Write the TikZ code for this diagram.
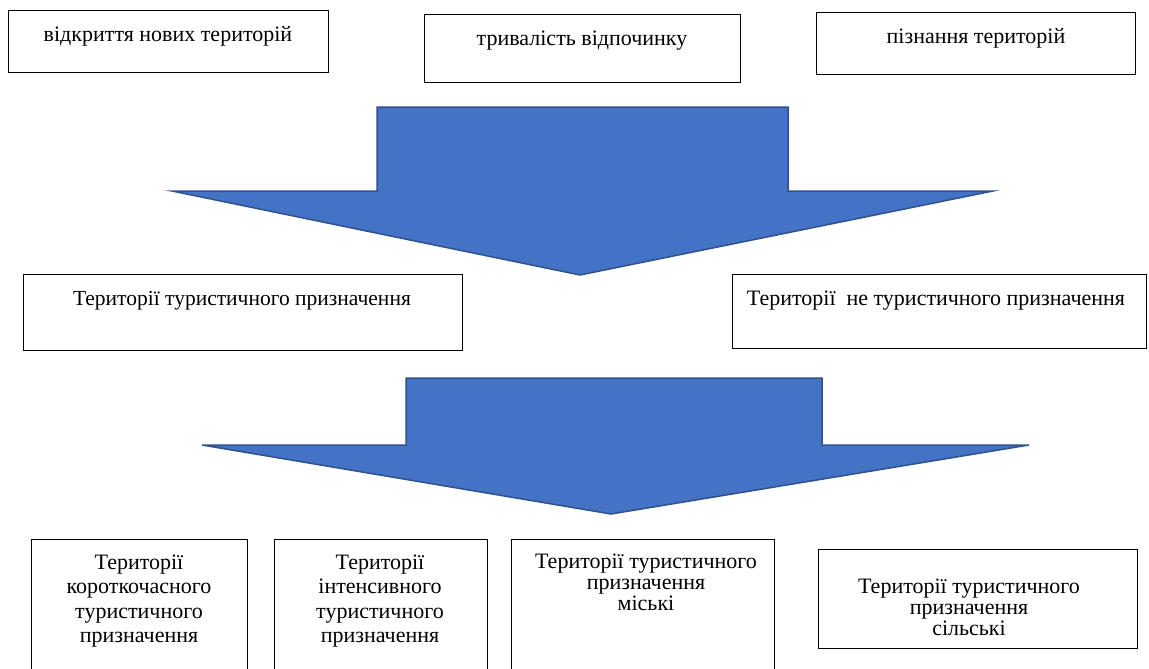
\documentclass[tikz,border=0pt]{standalone}
\usepackage{fontspec}
\setmainfont{Liberation Serif}
\usetikzlibrary{positioning}
\definecolor{blfill}{HTML}{4472C4}
\definecolor{blline}{HTML}{2F528F}

\begin{document}
\begin{tikzpicture}[x=1pt, y=-1pt]
    \tikzstyle{box}=[draw, line width=1.2pt, anchor=north west, inner sep=0pt]
    \tikzstyle{t}=[font=\fontsize{22}{26}\selectfont, inner sep=0pt]
    \tikzstyle{tb}=[font=\fontsize{22}{24.5}\selectfont, align=center, inner sep=0pt]
    \tikzstyle{tc}=[font=\fontsize{22}{21}\selectfont, align=center, inner sep=0pt]
    \tikzstyle{blk}=[fill=blfill, draw=blline, line width=1.5pt]

    \useasboundingbox (0,0) rectangle (1149,669);
    \clip (0,0) rectangle (1149,669);

    \node[box, minimum width=320pt, minimum height=62pt] (a1) at (8,10) {};
    \node[box, minimum width=316pt, minimum height=68pt] (a2) at (424,14) {};
    \node[box, minimum width=319pt, minimum height=62pt] (a3) at (816,12) {};
    \node[t] (ta1) at (168,36) {відкриття нових територій};
    \node[t] (ta2) at (582,41) {тривалість відпочинку};
    \node[t] (ta3) at (976,38) {пізнання територій};

    \draw[blk] (377,107) -- (788,107) -- (788,191) -- (993,191) -- (580,275)
        -- (172,191) -- (377,191) -- cycle;

    \node[box, minimum width=439pt, minimum height=76pt] (b1) at (23,274) {};
    \node[box, minimum width=414pt, minimum height=74pt] (b2) at (732,274) {};
    \node[t, font=\fontsize{21.5}{26}\selectfont] (tb1) at (242,301) {Території туристичного призначення};
    \node[t] (tb2) at (936,301) {Території\ \ не туристичного призначення};

    \draw[blk] (406,378) -- (822,378) -- (822,445) -- (1029,445) -- (611,514)
        -- (202,445) -- (406,445) -- cycle;

    \node[box, minimum width=216pt, minimum height=150pt] (c1) at (31,539) {};
    \node[box, minimum width=213pt, minimum height=150pt] (c2) at (274,539) {};
    \node[box, minimum width=263pt, minimum height=150pt] (c3) at (511,539) {};
    \node[box, minimum width=319pt, minimum height=99pt] (c4) at (818,549) {};
    \node[tb] (tc1) at (139,601) {Території\\короткочасного\\туристичного\\призначення};
    \node[tb] (tc2) at (380,601) {Території\\інтенсивного\\туристичного\\призначення};
    \node[tc] (tc3) at (646,582) {Території туристичного\\призначення\\міські};
    \node[tc] (tc4) at (969,607) {Території туристичного\\призначення\\сільські};
\end{tikzpicture}
\end{document}
